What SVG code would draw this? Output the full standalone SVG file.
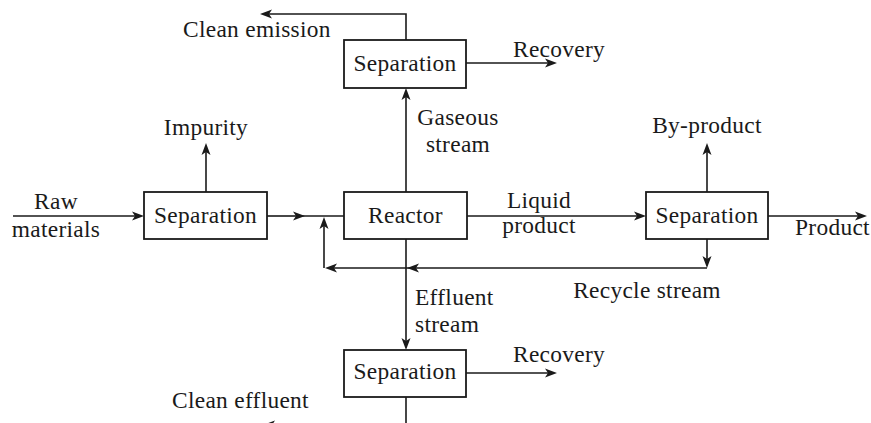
<svg xmlns="http://www.w3.org/2000/svg" width="871" height="423" viewBox="0 0 871 423">
<style>
.box{fill:#fff;stroke:#1a1a1a;stroke-width:1.8}
.ln{fill:none;stroke:#1a1a1a;stroke-width:1.6}
.t{font-family:"Liberation Serif","Times New Roman",serif;font-size:23.4px;letter-spacing:0.3px;fill:#1a1a1a}
.c{text-anchor:middle}
</style>
<defs>
<marker id="ah" viewBox="0 -5 13 10" markerWidth="13" markerHeight="10" refX="3" refY="0" orient="auto" markerUnits="userSpaceOnUse">
<path d="M0,-4.5 L12,0 L0,4.5 L3,0 Z" fill="#1a1a1a"/>
</marker>
</defs>
<rect width="871" height="423" fill="#fff"/>
<g id="connectors">
<path class="ln" d="M13,216 H135" marker-end="url(#ah)"/>
<path class="ln" d="M267,216 H296" marker-end="url(#ah)"/>
<path class="ln" d="M296,216 H344"/>
<path class="ln" d="M206,192 V152" marker-end="url(#ah)"/>
<path class="ln" d="M324,268 V226" marker-end="url(#ah)"/>
<path class="ln" d="M707,268 H416" marker-end="url(#ah)"/>
<path class="ln" d="M416,268 H334" marker-end="url(#ah)"/>
<path class="ln" d="M707,239 V259" marker-end="url(#ah)"/>
<path class="ln" d="M406,192 V97" marker-end="url(#ah)"/>
<path class="ln" d="M406,40 V14 H269" marker-end="url(#ah)"/>
<path class="ln" d="M466,63 H548" marker-end="url(#ah)"/>
<path class="ln" d="M467,216 H637" marker-end="url(#ah)"/>
<path class="ln" d="M707,192 V152" marker-end="url(#ah)"/>
<path class="ln" d="M768,216 H858" marker-end="url(#ah)"/>
<path class="ln" d="M406,239 V341" marker-end="url(#ah)"/>
<path class="ln" d="M466,373 H548" marker-end="url(#ah)"/>
<path class="ln" d="M406,397 V425 H272" marker-end="url(#ah)"/>
</g>
<g id="sep-top">
<rect class="box" x="344" y="40" width="122" height="48"/>
<text class="t c" x="405" y="71">Separation</text>
</g>
<g id="sep-left">
<rect class="box" x="144" y="192" width="123" height="47"/>
<text class="t c" x="205.5" y="223">Separation</text>
</g>
<g id="reactor">
<rect class="box" x="344" y="192" width="123" height="47"/>
<text class="t c" x="405.5" y="223">Reactor</text>
</g>
<g id="sep-right">
<rect class="box" x="646" y="192" width="122" height="47"/>
<text class="t c" x="707" y="223">Separation</text>
</g>
<g id="sep-bottom">
<rect class="box" x="344" y="350" width="122" height="47"/>
<text class="t c" x="405" y="379">Separation</text>
</g>
<g id="labels">
<text class="t" x="183" y="37">Clean emission</text>
<text class="t" x="513" y="57">Recovery</text>
<text class="t c" x="206" y="135">Impurity</text>
<text class="t c" x="458" y="125">Gaseous</text>
<text class="t c" x="458" y="152">stream</text>
<text class="t c" x="707" y="133">By-product</text>
<text class="t c" x="56" y="209">Raw</text>
<text class="t c" x="56" y="237">materials</text>
<text class="t c" x="539" y="208">Liquid</text>
<text class="t c" x="539" y="233">product</text>
<text class="t" x="795" y="235">Product</text>
<text class="t c" x="647" y="298">Recycle stream</text>
<text class="t" x="415" y="305">Effluent</text>
<text class="t" x="415" y="332">stream</text>
<text class="t" x="513" y="362">Recovery</text>
<text class="t" x="172" y="408">Clean effluent</text>
</g>
</svg>
